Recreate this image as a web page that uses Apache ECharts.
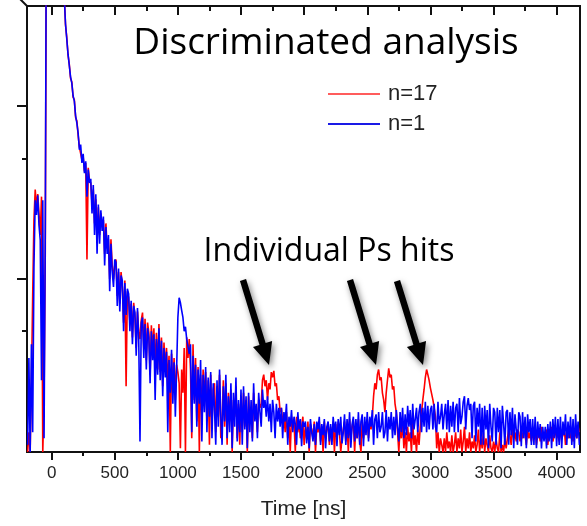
<!DOCTYPE html>
<html><head><meta charset="utf-8">
<script src="https://cdn.jsdelivr.net/npm/echarts@6/dist/echarts.min.js"></script>
<style>html,body{margin:0;padding:0;background:#fff}#c{width:587px;height:526px}</style>
</head><body><div id="c"></div>
<script>
// time axis of the histogram: first bin and bin width (ns)
const T0 = -190, STEP = 10;
const X_MIN = -195, X_MAX = 4185;
const Y_MIN = 1, Y_MAX = 380;

// n=1 (blue)
const n1 = [
1.1, 3.5, 1.0, 4.2, 1.3, 11.7, 28.6, 23.5, 30.5, 20.5,
16.8, 2.6, 28.6, 1.2, 20, 3000, 8000, 10000, 10000, 10000,
9000, 8000, 6500, 5000, 3800, 2800, 2000, 1300, 800, 430,
300, 245, 200, 172, 148, 136, 115, 107, 88, 80,
70, 56, 60, 47, 53, 41, 48, 30, 43, 36,
38, 24, 35, 18, 31, 14, 27, 16, 25, 19,
23, 12, 20, 14, 18, 8.5, 16, 11, 9, 13,
12.5, 7, 11.5, 6.5, 10.5, 9.8, 5, 9.5, 6.2, 8.8,
8.2, 5, 7.5, 4.2, 7, 6.4, 3.6, 6.8, 4.5, 1.15,
5.6, 6.0, 3.5, 5.5, 3.0, 5.2, 4.6, 2.5, 5.0, 3.4,
4.8, 2.0, 4.5, 2.8, 5.2, 2.6, 4.4, 2.1, 4.0, 2.7,
3.8, 1.3, 3.4, 2.2, 3.9, 1.9, 3.3, 1.6, 3.0, 6.0,
7.8, 7.3, 6.6, 6.0, 5.0, 5.3, 4.5, 4.6, 3.7, 4.2,
1.3, 3.6, 1.9, 3.2, 1.4, 3.0, 1.9, 3.4, 1.15, 2.8,
1.7, 3.1, 1.3, 2.7, 1.6, 2.9, 1.2, 2.5, 1.8, 1.1,
2.6, 1.4, 3.0, 1.6, 1.1, 2.4, 1.5, 2.8, 1.2, 2.1,
1.3, 2.5, 1.05, 2.2, 1.4, 2.7, 1.15, 2.0, 1.3, 2.3,
1.1, 2.4, 1.35, 2.1, 1.05, 2.2, 1.3, 2.0, 1.15, 2.5,
1.5, 1.9, 1.2, 2.2, 1.7, 1.4, 2.3, 1.8, 2.0, 1.6,
2.1, 1.5, 1.9, 1.3, 2.0, 1.7, 1.2, 1.9, 1.5, 1.8,
1.4, 1.8, 1.2, 1.7, 1.5, 1.9, 1.1, 1.6, 1.4, 1.75,
1.3, 1.6, 1.45, 1.1, 1.7, 1.35, 1.55, 1.08, 1.5, 1.4,
1.5, 1.12, 1.4, 1.05, 1.55, 1.3, 1.15, 1.45, 1.1, 1.5,
1.35, 1.6, 1.1, 1.45, 1.25, 1.55, 1.05, 1.4, 1.5, 1.15,
1.45, 1.1, 1.6, 1.3, 1.5, 1.08, 1.55, 1.25, 1.6, 1.12,
1.3, 1.65, 1.1, 1.55, 1.2, 1.7, 1.06, 1.45, 1.6, 1.15,
1.55, 1.2, 1.7, 1.1, 1.5, 1.65, 1.08, 1.6, 1.25, 1.7,
1.15, 1.6, 1.4, 1.75, 1.1, 1.55, 1.65, 1.2, 1.7, 1.3,
1.4, 1.7, 1.2, 1.3, 1.75, 1.15, 1.6, 1.35, 1.7, 1.2,
1.6, 1.25, 1.75, 1.4, 1.15, 1.7, 1.3, 1.8, 1.2, 1.65,
1.25, 1.85, 1.4, 1.75, 1.2, 1.9, 1.35, 1.55, 1.8, 1.3,
1.7, 1.9, 1.3, 1.8, 1.4, 1.95, 1.3, 1.85, 1.35, 1.75,
1.85, 1.35, 1.9, 1.4, 1.3, 1.95, 1.45, 1.6, 1.9, 1.35,
1.65, 1.9, 1.35, 2.0, 1.3, 1.85, 1.4, 1.95, 1.3, 1.8,
1.9, 1.3, 2.05, 1.45, 1.6, 1.95, 2.1, 1.35, 1.85, 2.05,
1.75, 1.9, 1.2, 1.85, 1.95, 1.15, 1.8, 1.4, 1.9, 1.1,
1.8, 1.1, 1.85, 1.35, 1.75, 1.05, 1.9, 1.4, 1.15, 1.8,
1.7, 1.1, 1.8, 1.3, 1.75, 1.05, 1.85, 1.45, 1.1, 1.7,
1.75, 1.1, 1.7, 1.25, 1.8, 1.05, 1.65, 1.35, 1.1, 1.7,
1.6, 1.08, 1.7, 1.2, 1.6, 1.05, 1.65, 1.3, 1.55, 1.1,
1.55, 1.1, 1.6, 1.05, 1.5, 1.2, 1.45, 1.05, 1.4, 1.15,
1.4, 1.05, 1.45, 1.15, 1.5, 1.05, 1.55, 1.2, 1.6, 1.08,
1.55, 1.1, 1.6, 1.05, 1.5, 1.25, 1.65, 1.1, 1.5, 1.2,
1.6, 1.1, 1.55, 1.05, 1.65, 1.2, 1.5, 1.1
];

// n=17 (red)
const n17 = [
1.0, 1.3, 1.0, 2.5, 8, 22, 33, 26, 31, 24,
18, 30, 1.0, 2.0, 15, 3000, 8000, 10000, 10000, 10000,
9000, 8000, 6500, 5000, 3800, 2800, 2000, 1300, 800, 440,
295, 250, 198, 175, 145, 138, 113, 109, 86, 82,
68, 58, 57, 49, 51, 42, 47, 13, 44, 37,
36, 27, 33, 21, 29, 17, 26, 18, 24, 20,
22, 14, 21, 15, 17, 10, 17, 12, 10, 12,
13, 8, 11, 7.2, 11, 9, 5.6, 9.8, 2.4, 8.5,
7.8, 5.6, 7.2, 4.6, 7.3, 6.0, 4.0, 6.5, 5.0, 4.5,
5.8, 6.4, 4.0, 5.9, 3.4, 5.6, 4.9, 2.8, 5.4, 3.8,
5.2, 3.0, 4.9, 3.0, 5.5, 2.9, 4.6, 2.4, 4.3, 3.0,
4.0, 2.4, 3.6, 1.0, 3.7, 2.2, 3.5, 2.0, 3.2, 2.9,
2.5, 1.05, 3.0, 2.2, 4.0, 1.0, 4.6, 3.5, 4.5, 3.0,
1.2, 4.2, 2.0, 3.5, 1.5, 3.1, 1.0, 2.8, 1.6, 3.0,
2.0, 2.9, 1.5, 2.6, 1.1, 2.8, 1.4, 2.3, 2.5, 1.3,
2.4, 1.6, 2.8, 1.2, 1.5, 2.6, 1.4, 2.5, 1.1, 2.2,
1.5, 2.3, 1.0, 2.0, 1.6, 2.4, 1.2, 1.9, 1.1, 2.1,
1.3, 2.2, 1.4, 2.0, 1.0, 2.1, 1.5, 1.8, 1.2, 2.2,
1.6, 1.7, 1.3, 2.0, 1.8, 1.9, 2.6, 2.8, 2.4, 2.6,
2.0, 2.5, 2.3, 2.9, 2.7, 2.95, 2.4, 2.5, 2.0, 2.1,
1.7, 1.8, 1.5, 1.6, 1.3, 1.7, 1.2, 1.5, 1.0, 1.6,
1.4, 1.5, 1.0, 1.6, 1.3, 1.5, 1.2, 1.4, 1.6, 1.1,
1.4, 1.2, 1.5, 1.0, 1.45, 1.35, 1.2, 1.5, 1.0, 1.4,
1.3, 1.5, 1.15, 1.4, 1.0, 1.5, 1.2, 1.35, 1.45, 1.1,
1.4, 1.15, 1.5, 1.0, 1.45, 1.2, 1.5, 1.3, 1.0, 1.2,
1.35, 1.5, 1.15, 1.45, 1.0, 1.55, 1.2, 1.4, 1.5, 1.0,
1.45, 1.2, 1.55, 1.15, 1.0, 1.5, 1.2, 1.45, 1.3, 1.55,
1.2, 1.5, 1.35, 1.6, 2.1, 2.5, 2.3, 2.8, 3.0, 2.6,
2.7, 2.2, 2.0, 1.7, 2.2, 2.6, 3.05, 2.7, 2.8, 2.3,
2.4, 1.9, 1.7, 1.3, 1.0, 1.4, 1.2, 1.5, 1.05, 1.3,
1.0, 1.4, 1.15, 1.3, 1.0, 1.5, 1.1, 1.25, 1.0, 1.35,
1.1, 1.4, 1.7, 2.0, 2.3, 2.7, 3.0, 2.8, 2.6, 2.35,
2.4, 2.0, 1.8, 1.6, 1.05, 1.3, 1.0, 1.2, 1.1, 1.0,
1.2, 1.0, 1.3, 1.05, 1.15, 1.0, 1.25, 1.0, 1.1, 1.3,
1.0, 1.2, 1.05, 1.35, 1.0, 1.15, 1.4, 1.0, 1.2, 1.05,
1.3, 1.0, 1.15, 1.05, 1.25, 1.0, 1.1, 1.35, 1.0, 1.2,
1.05, 1.3, 1.0, 1.2, 1.1, 1.0, 1.25, 1.05, 1.0, 1.15,
1.0, 1.2, 1.05, 1.0, 1.3, 1.0, 1.1, 1.0, 1.2, 1.05,
1.2, 1.35, 1.25, 1.1, 1.4, 1.2, 1.3, 1.15, 1.35, 1.3,
1.15, 1.3, 1.2, 1.4, 1.25, 1.1, 1.35, 1.2, 1.3, 1.15,
1.3, 1.2, 1.35, 1.1, 1.25, 1.3, 1.15, 1.4, 1.2, 1.3,
1.2, 1.35, 1.1, 1.3, 1.2, 1.4, 1.15, 1.25, 1.3, 1.2,
1.3, 1.15, 1.35, 1.2, 1.25, 1.4, 1.1, 1.3, 1.2, 1.35,
1.2, 1.3, 1.15, 1.35, 1.25, 1.2, 1.4, 1.3
];

const xMajor = [0, 500, 1000, 1500, 2000, 2500, 3000, 3500, 4000];
const xMinor = [250, 750, 1250, 1750, 2250, 2750, 3250, 3750];
const yMajor = [10, 100];
const yMinor = [5, 50];
const seriesNames = ['n=17', 'n=1'];

const AX = '#111';
function xAxis(pos, ticks, len, inside, labels) {
  return {
    type: 'value', min: X_MIN, max: X_MAX, position: pos,
    axisLine: { show: false, onZero: false },
    splitLine: { show: false },
    axisTick: { show: true, customValues: ticks, length: len, inside: inside, lineStyle: { color: AX, width: 2 } },
    axisLabel: labels ? { show: true, customValues: ticks, formatter: v => String(v), fontSize: 17, fontFamily: 'Liberation Sans', color: '#222', margin: 13 } : { show: false },
    name: labels ? 'Time [ns]' : '', nameLocation: 'middle', nameGap: 47,
    nameTextStyle: { fontSize: 21, fontFamily: 'Liberation Sans', color: '#222' }
  };
}
function yAxis(ticks, len) {
  return {
    type: 'log', logBase: 10, min: Y_MIN, max: Y_MAX, position: 'left',
    axisLine: { show: false, onZero: false }, splitLine: { show: false },
    axisTick: { show: true, customValues: ticks, length: len, inside: false, lineStyle: { color: AX, width: 2 } },
    axisLabel: { show: false }
  };
}
function arrow(x1, y1, x2, y2) {
  const dx = x2 - x1, dy = y2 - y1, L = Math.hypot(dx, dy);
  const ux = dx / L, uy = dy / L, px = -uy, py = ux;
  const hl = 22, hw = 10, sw = 3.2;
  const bx = x2 - ux * hl, by = y2 - uy * hl;
  return [[x1 + px * sw, y1 + py * sw], [bx + px * sw, by + py * sw], [bx + px * hw, by + py * hw], [x2, y2],
          [bx - px * hw, by - py * hw], [bx - px * sw, by - py * sw], [x1 - px * sw, y1 - py * sw]];
}
const arrowStyle = { fill: '#000', shadowBlur: 6, shadowColor: 'rgba(0,0,0,0.5)', shadowOffsetX: 2, shadowOffsetY: 3 };

const chart = echarts.init(document.getElementById('c'));
chart.setOption({
  animation: false,
  backgroundColor: '#fff',
  grid: { left: 27, right: 7, top: 6, bottom: 74, show: true, borderColor: AX, borderWidth: 2, backgroundColor: 'transparent' },
  xAxis: [
    xAxis('bottom', xMajor, 8, false, true),
    xAxis('bottom', xMinor, 4, false, false),
    xAxis('top', xMajor, 9, true, false),
    xAxis('top', xMinor, 5, true, false)
  ],
  yAxis: [yAxis(yMajor, 10), yAxis(yMinor, 5)],
  legend: {
    orient: 'vertical', left: 323, top: 77, itemWidth: 52, itemHeight: 2, itemGap: 6, icon: 'rect',
    selectedMode: false,
    textStyle: { fontSize: 22, fontFamily: 'Liberation Sans', color: '#222', padding: [0, 0, 0, 3], lineHeight: 24 },
    data: [{ name: seriesNames[0], itemStyle: { color: '#ff5c5c' } }, { name: seriesNames[1], itemStyle: { color: '#1a1ae6' } }]
  },
  series: [
    { type: 'line', name: seriesNames[0], data: n17.map((v, i) => [T0 + i * STEP, v]), showSymbol: false, symbol: 'none',
      lineStyle: { color: '#ff0000', width: 1.6 }, itemStyle: { color: '#ff0000' }, z: 2, clip: true },
    { type: 'line', name: seriesNames[1], data: n1.map((v, i) => [T0 + i * STEP, v]), showSymbol: false, symbol: 'none',
      lineStyle: { color: '#0000ff', width: 1.6 }, itemStyle: { color: '#0000ff' }, z: 3, clip: true }
  ],
  graphic: [
    { type: 'text', z: 10, style: { x: 326, y: 43, text: 'Discriminated analysis', font: '37px "Open Sans"', fill: '#000',
      textAlign: 'center', textVerticalAlign: 'middle', align: 'center', verticalAlign: 'middle' } },
    { type: 'text', z: 10, style: { x: 329, y: 252, text: 'Individual Ps hits', font: '32px "Open Sans"', fill: '#000',
      textAlign: 'center', textVerticalAlign: 'middle', align: 'center', verticalAlign: 'middle' } },
    { type: 'polygon', z: 10, shape: { points: arrow(243, 280, 269, 365) }, style: arrowStyle },
    { type: 'polygon', z: 10, shape: { points: arrow(350, 280, 376, 365) }, style: arrowStyle },
    { type: 'polygon', z: 10, shape: { points: arrow(397, 281, 423, 365) }, style: arrowStyle },
    { type: 'line', z: 10, shape: { x1: 20, y1: -1, x2: 27, y2: 6 }, style: { stroke: AX, lineWidth: 2 } }
  ]
});
</script></body></html>
